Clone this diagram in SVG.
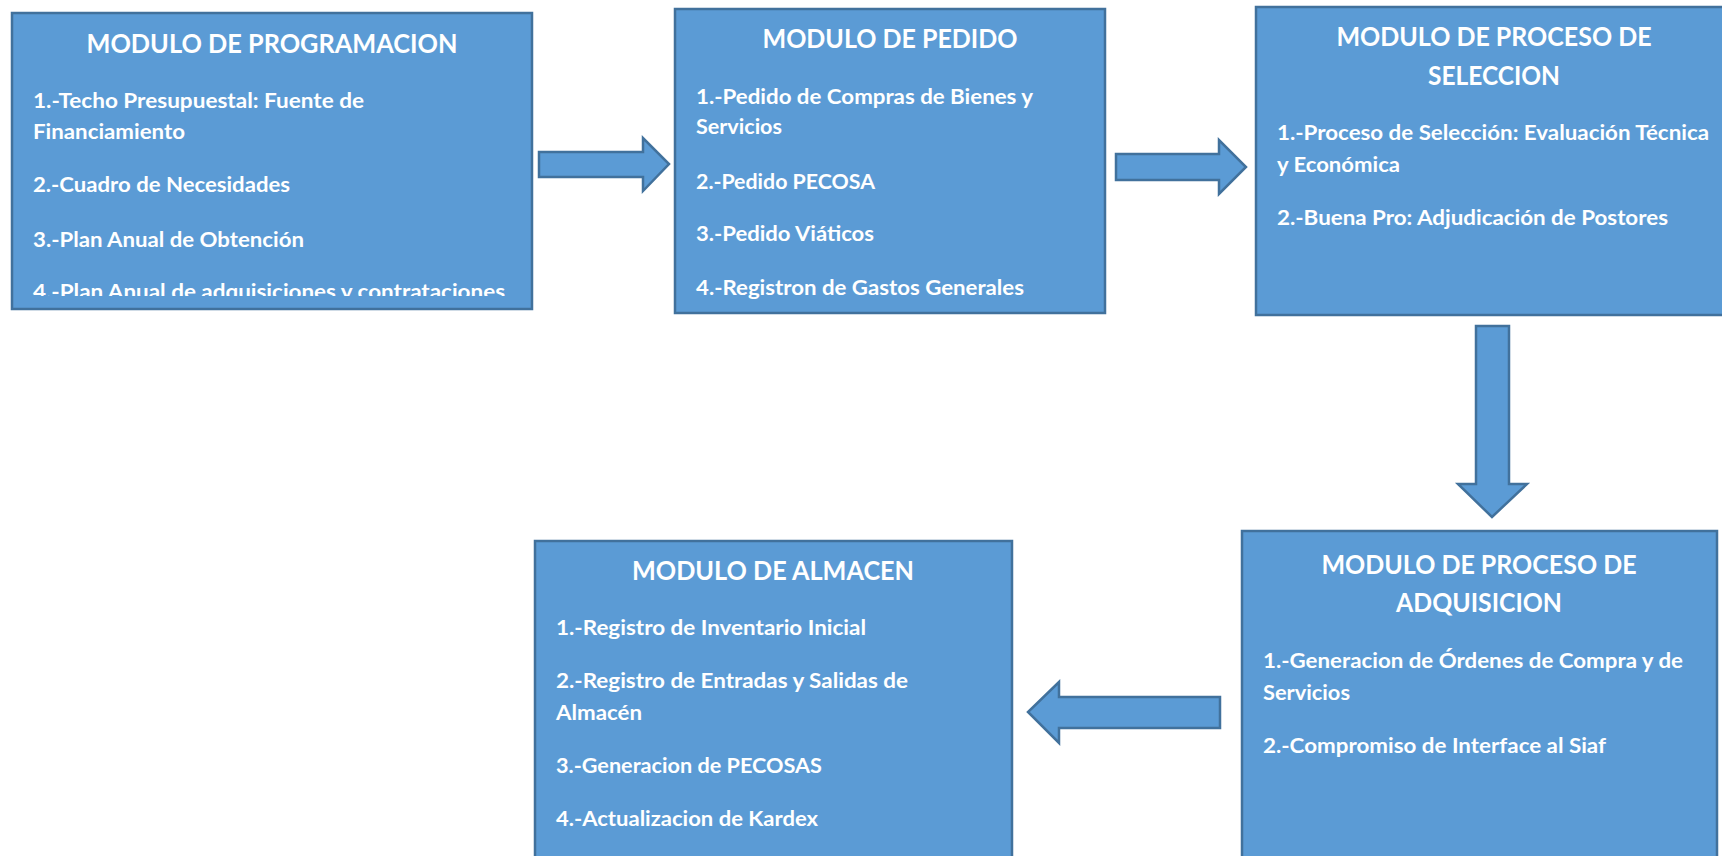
<svg xmlns="http://www.w3.org/2000/svg" width="1722" height="856" viewBox="0 0 1722 856">
<style>
.box{fill:#5B9BD5;stroke:#41719C;stroke-width:2.5}
.arr{fill:#5B9BD5;stroke:#41719C;stroke-width:2.5;stroke-linejoin:miter}
.t{font-family:Lato,"Open Sans","Liberation Sans",sans-serif;font-weight:bold;fill:#FFFFFF;font-size:26px;text-anchor:middle}
.i{font-family:Lato,"Open Sans","Liberation Sans",sans-serif;font-weight:bold;fill:#FFFFFF;font-size:21px}
</style>
<defs>
<clipPath id="clip1"><rect x="12" y="13" width="520" height="283"/></clipPath>
</defs>
<rect width="1722" height="856" fill="#FFFFFF"/>
<g id="connectors">
<polygon class="arr" points="539,152 643,152 643,138 669,164 643,191 643,177 539,177"/>
<polygon class="arr" points="1116,154 1219,154 1219,140 1246,167 1219,194 1219,180 1116,180"/>
<polygon class="arr" points="1476,326 1509,326 1509,484 1527,484 1492,517 1458,484 1476,484"/>
<polygon class="arr" points="1220,697 1059,697 1059,682 1028,712 1059,743 1059,728 1220,728"/>
</g>
<g id="programacion">
<rect class="box" x="12" y="13" width="520" height="296"/>
<text class="t" x="272" y="53" textLength="371" lengthAdjust="spacingAndGlyphs">MODULO DE PROGRAMACION</text>
<g clip-path="url(#clip1)">
<text class="i" x="33" y="108" textLength="331" lengthAdjust="spacingAndGlyphs">1.-Techo Presupuestal: Fuente de</text>
<text class="i" x="33" y="139" textLength="152" lengthAdjust="spacingAndGlyphs">Financiamiento</text>
<text class="i" x="33" y="192" textLength="257" lengthAdjust="spacingAndGlyphs">2.-Cuadro de Necesidades</text>
<text class="i" x="33" y="247" textLength="271" lengthAdjust="spacingAndGlyphs">3.-Plan Anual de Obtención</text>
<text class="i" x="33" y="299" textLength="472" lengthAdjust="spacingAndGlyphs">4.-Plan Anual de adquisiciones y contrataciones</text>
</g>
</g>
<g id="pedido">
<rect class="box" x="675" y="9" width="430" height="304"/>
<text class="t" x="890" y="48" textLength="255" lengthAdjust="spacingAndGlyphs">MODULO DE PEDIDO</text>
<text class="i" x="696" y="104" textLength="337" lengthAdjust="spacingAndGlyphs">1.-Pedido de Compras de Bienes y</text>
<text class="i" x="696" y="134" textLength="86" lengthAdjust="spacingAndGlyphs">Servicios</text>
<text class="i" x="696" y="189" textLength="179" lengthAdjust="spacingAndGlyphs">2.-Pedido PECOSA</text>
<text class="i" x="696" y="241" textLength="178" lengthAdjust="spacingAndGlyphs">3.-Pedido Viáticos</text>
<text class="i" x="696" y="295" textLength="328" lengthAdjust="spacingAndGlyphs">4.-Registron de Gastos Generales</text>
</g>
<g id="seleccion">
<rect class="box" x="1256" y="7" width="476" height="308"/>
<text class="t" x="1494" y="46" textLength="315" lengthAdjust="spacingAndGlyphs">MODULO DE PROCESO DE</text>
<text class="t" x="1494" y="85" textLength="132" lengthAdjust="spacingAndGlyphs">SELECCION</text>
<text class="i" x="1277" y="140" textLength="432" lengthAdjust="spacingAndGlyphs">1.-Proceso de Selección: Evaluación Técnica</text>
<text class="i" x="1277" y="172" textLength="123" lengthAdjust="spacingAndGlyphs">y Económica</text>
<text class="i" x="1277" y="225" textLength="391" lengthAdjust="spacingAndGlyphs">2.-Buena Pro: Adjudicación de Postores</text>
</g>
<g id="adquisicion">
<rect class="box" x="1242" y="531" width="475" height="340"/>
<text class="t" x="1479" y="574" textLength="315" lengthAdjust="spacingAndGlyphs">MODULO DE PROCESO DE</text>
<text class="t" x="1479" y="612" textLength="166" lengthAdjust="spacingAndGlyphs">ADQUISICION</text>
<text class="i" x="1263" y="668" textLength="420" lengthAdjust="spacingAndGlyphs">1.-Generacion de Órdenes de Compra y de</text>
<text class="i" x="1263" y="700" textLength="87" lengthAdjust="spacingAndGlyphs">Servicios</text>
<text class="i" x="1263" y="753" textLength="343" lengthAdjust="spacingAndGlyphs">2.-Compromiso de Interface al Siaf</text>
</g>
<g id="almacen">
<rect class="box" x="535" y="541" width="477" height="330"/>
<text class="t" x="773" y="580" textLength="282" lengthAdjust="spacingAndGlyphs">MODULO DE ALMACEN</text>
<text class="i" x="556" y="635" textLength="310" lengthAdjust="spacingAndGlyphs">1.-Registro de Inventario Inicial</text>
<text class="i" x="556" y="688" textLength="352" lengthAdjust="spacingAndGlyphs">2.-Registro de Entradas y Salidas de</text>
<text class="i" x="556" y="720" textLength="86" lengthAdjust="spacingAndGlyphs">Almacén</text>
<text class="i" x="556" y="773" textLength="266" lengthAdjust="spacingAndGlyphs">3.-Generacion de PECOSAS</text>
<text class="i" x="556" y="826" textLength="262" lengthAdjust="spacingAndGlyphs">4.-Actualizacion de Kardex</text>
</g>
</svg>
